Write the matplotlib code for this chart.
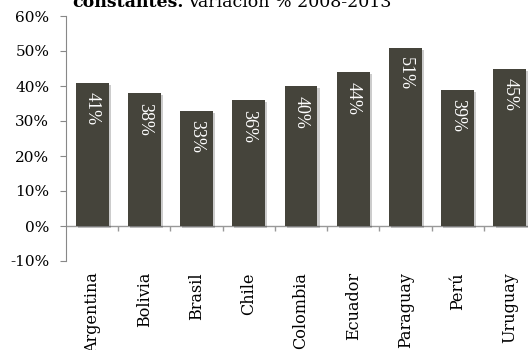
import matplotlib.pyplot as plt
import matplotlib.patheffects as pe
import numpy as np

paises = ['Argentina', 'Bolivia', 'Brasil', 'Chile', 'Colombia', 'Ecuador',
          'Paraguay', 'Perú', 'Uruguay']
variacion = [41, 38, 33, 36, 40, 44, 51, 39, 45]
yticks = [-10, 0, 10, 20, 30, 40, 50, 60]

plt.rcParams['font.family'] = ['DejaVu Serif']

fig = plt.figure(figsize=(5.28, 3.5), dpi=100)
ax = fig.add_axes([66/528, 1-261/350, 470/528, 245/350])

x = np.arange(len(paises))
bars = ax.bar(x, variacion, width=0.63, color='#45443b', zorder=3)
for b in bars:
    b.set_path_effects([pe.SimplePatchShadow(offset=(1.5, -1.5), alpha=0.2, shadow_rgbFace='#000000'),
                        pe.Normal()])

# etiquetas dentro de las barras
for xi, v in zip(x, variacion):
    ax.text(xi, v - 2.8, '%d%%' % v, rotation=270, color='white', fontsize=13,
            family='Liberation Serif', ha='center', va='top', zorder=4)

ax.set_xlim(-0.5, len(paises) - 0.5)
ax.set_ylim(-10, 60)
ax.set_yticks(yticks)
ax.set_yticklabels(['%d%%' % t for t in yticks], fontsize=11)
ax.set_xticks(x)
ax.set_xticklabels(paises, rotation=90, fontsize=11.5, va='top')
ax.tick_params(axis='x', length=0, pad=8)
ax.tick_params(axis='y', length=4, color='#888888', pad=8)

for s in ['top', 'right', 'bottom']:
    ax.spines[s].set_visible(False)
ax.spines['left'].set_color('#888888')
ax.axhline(0, color='#999999', lw=1, zorder=2)
ax.vlines(x[1:] - 0.5, -1.3, 0, color='#999999', lw=1, zorder=2)

t1 = fig.text(72/528, 1-7/350, 'constantes.', fontsize=12.5, fontweight='bold',
              va='baseline', ha='left')
fig.canvas.draw()
bb = t1.get_window_extent()
fig.text(bb.x1/528 + 0.008, 1-7/350, 'Variación % 2008-2013', fontsize=12.5,
         va='baseline', ha='left')

plt.savefig('out.png', dpi=100)
